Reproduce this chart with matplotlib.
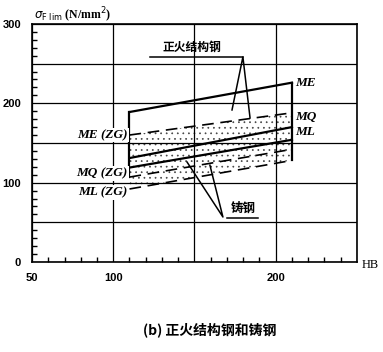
import matplotlib
matplotlib.use('Agg')
from matplotlib import pyplot as plt
import numpy as np

plt.rcParams['font.family'] = ['Liberation Serif', 'Noto Sans CJK SC', 'DejaVu Sans']
plt.rcParams['hatch.linewidth'] = 0.5
plt.rcParams['hatch.color'] = '#444444'

# HB range of the lines
hb = [110, 210]

# 正火结构钢 (normalized structural steel)
me = [189, 226]
mq = [131, 170]
ml = [119, 154]

# 铸钢 (cast steel, ZG)
me_zg = [160, 188]
mq_zg = [107, 142]
ml_zg = [92, 128]

xticks = [50, 100, 150, 200, 250]
xlabels = ['50', '100', '', '200', '']
yticks = [0, 50, 100, 150, 200, 250, 300]
ylabels = ['0', '', '100', '', '200', '', '300']

fig = plt.figure(figsize=(3.83, 3.52), dpi=100)
ax = fig.add_axes([0.0836, 0.2557, 0.8484, 0.6763])

ax.set_xlim(50, 250)
ax.set_ylim(0, 300)
ax.set_xticks(xticks)
ax.set_xticklabels(xlabels, fontsize=8, fontweight='bold', family='Liberation Sans')
ax.set_yticks(yticks)
ax.set_yticklabels(ylabels, fontsize=8, fontweight='bold', family='Liberation Sans')
ax.set_xticks(np.arange(50, 251, 10), minor=True)
ax.set_yticks(np.arange(0, 301, 10), minor=True)
ax.tick_params(which='major', length=0, pad=8)
ax.tick_params(which='minor', direction='in', length=3.5, width=1)
ax.grid(True, which='major', color='black', lw=0.9)
for s in ax.spines.values():
    s.set_linewidth(1.2)

# stippled band for cast steel
ax.fill_between(hb, ml_zg, me_zg, facecolor='none', edgecolor='#444444',
                hatch='...', linewidth=0)

# normalized steel lines
ax.plot(hb, me, color='black', lw=1.6)
ax.plot(hb, mq, color='black', lw=1.6)
ax.plot(hb, ml, color='black', lw=1.6)
ax.plot([hb[0], hb[0]], [mq_zg[0], me[0]], color='black', lw=1.6)
ax.plot([hb[1], hb[1]], [ml_zg[1], me[1]], color='black', lw=1.6)

# cast steel lines (dashed)
for ys in (me_zg, mq_zg, ml_zg):
    ax.plot(hb, ys, color='black', lw=1.2, linestyle=(0, (7, 4)))

lab = dict(fontsize=9.5, fontweight='bold', style='italic', va='center')
ax.text(212, 226, 'ME', ha='left', **lab)
ax.text(212, 183, 'MQ', ha='left', **lab)
ax.text(212, 164, 'ML', ha='left', **lab)
box = dict(fc='white', ec='none', pad=1)
ax.text(109, 160, 'ME (ZG)', ha='right', bbox=box, **lab)
ax.text(109, 112, 'MQ (ZG)', ha='right', bbox=box, **lab)
ax.text(109, 88, 'ML (ZG)', ha='right', bbox=box, **lab)

# 正火结构钢 callout
ax.text(148.5, 271, '正火结构钢', ha='center', va='center', fontsize=8.5,
        fontweight='bold', family='Noto Sans CJK SC')
ax.plot([122.6, 179.8], [258.4, 258.4], color='black', lw=1.1)
ax.plot([173.1, 179.8, 184.2], [191.6, 258.4, 181.5], color='black', lw=1.1)

# 铸钢 callout
ax.text(180, 68, '铸钢', ha='center', va='center', fontsize=9,
        fontweight='bold', family='Noto Sans CJK SC')
ax.plot([170, 189], [55.5, 55.5], color='black', lw=1.1)
ax.plot([145.4, 167.5, 159.5], [126, 56.7, 122], color='black', lw=1.1)

fig.text(0.09, 0.957, r'$\sigma_{\mathrm{F\ lim}}$ (N/mm$^2$)', fontsize=8.5,
         fontweight='bold', va='center', ha='left')
fig.text(0.945, 0.246, 'HB', fontsize=9, va='center', ha='left')
fig.text(0.548, 0.0625, '(b) 正火结构钢和铸钢', fontsize=10, fontweight='bold',
         ha='center', va='center', family=['Noto Sans CJK SC', 'DejaVu Sans'])

fig.savefig('out.png', dpi=100)
